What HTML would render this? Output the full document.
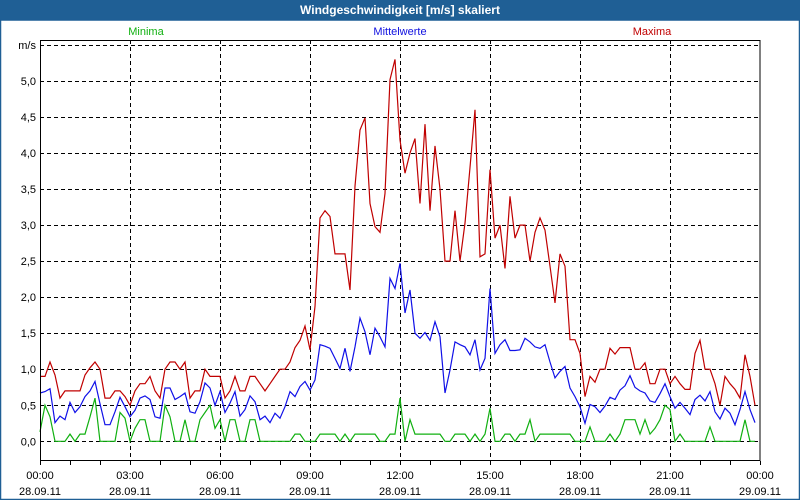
<!DOCTYPE html>
<html><head><meta charset="utf-8"><style>
body{margin:0;background:#fff;}
#wrap{position:relative;width:800px;height:500px;overflow:hidden;background:#fff;font-family:"Liberation Sans",sans-serif;}
</style></head><body>
<div id="wrap">
<svg id="chart" width="800" height="500" font-family="Liberation Sans, sans-serif">
<rect x="0" y="0" width="800" height="20" fill="#1f5f95"/>
<text x="400" y="14" fill="#fff" font-size="12" font-weight="bold" text-anchor="middle">Windgeschwindigkeit [m/s] skaliert</text>
<rect x="0.5" y="20" width="799" height="479.5" fill="none" stroke="#1f5f95" stroke-width="1.5"/>
<text x="146" y="35" fill="#10b010" font-size="11" text-anchor="middle">Minima</text>
<text x="400" y="35" fill="#1010e0" font-size="11" text-anchor="middle">Mittelwerte</text>
<text x="652" y="35" fill="#c00000" font-size="11" text-anchor="middle">Maxima</text>
<g id="grid"></g>
<g id="series"></g>
<rect x="40.5" y="40.5" width="719.5" height="420" fill="none" stroke="#000" stroke-width="1"/>
<g id="axes"></g>
</svg>
</div>
<script>
const yTicks=[0,0.5,1,1.5,2,2.5,3,3.5,4,4.5,5];
const yTickLabels=["0,0","0,5","1,0","1,5","2,0","2,5","3,0","3,5","4,0","4,5","5,0"];
const xTickHours=[0,3,6,9,12,15,18,21,24];
const xTimeLabels=["00:00","03:00","06:00","09:00","12:00","15:00","18:00","21:00","00:00"];
const xDateLabels=["28.09.11","28.09.11","28.09.11","28.09.11","28.09.11","28.09.11","28.09.11","28.09.11","29.09.11"];
const maxima=[0.9,0.9,1.1,0.92,0.6,0.7,0.7,0.7,0.7,0.92,1.02,1.1,1.0,0.6,0.6,0.7,0.7,0.62,0.5,0.7,0.8,0.8,0.9,0.7,0.6,1.0,1.1,1.1,1.0,1.1,0.6,0.7,0.7,1.0,0.9,0.9,0.9,0.6,0.7,0.9,0.7,0.7,0.9,0.9,0.8,0.7,0.8,0.9,1.0,1.0,1.1,1.3,1.4,1.6,
1.27,1.87,3.1,3.2,3.12,2.6,2.6,2.6,2.1,3.54,4.32,4.49,3.3,2.98,2.9,3.44,5.02,5.3,4.18,3.72,4.0,4.2,3.3,4.4,3.2,4.1,3.5,2.5,2.5,3.2,2.5,3.03,3.8,4.6,2.56,2.6,3.77,2.82,3.0,2.4,3.4,2.82,3.0,3.0,2.5,2.9,3.1,2.93,2.43,1.92,2.6,2.43,
1.41,1.41,1.22,0.62,0.9,0.82,1.0,1.0,1.29,1.21,1.3,1.3,1.3,1.0,1.0,1.09,0.8,0.8,1.0,1.0,0.8,0.9,0.8,0.72,0.72,1.22,1.4,1.0,1.0,0.8,0.5,0.9,0.8,0.72,0.6,1.2,0.9,0.5];
const mittelwerte=[0.67,0.69,0.73,0.26,0.35,0.3,0.54,0.4,0.48,0.62,0.7,0.83,0.52,0.23,0.23,0.41,0.61,0.48,0.34,0.43,0.6,0.63,0.58,0.34,0.32,0.74,0.74,0.58,0.62,0.67,0.41,0.39,0.55,0.81,0.74,0.5,0.69,0.4,0.53,0.69,0.35,0.44,0.63,0.55,0.3,0.35,0.26,0.39,0.32,0.48,0.69,0.62,0.76,0.83,
0.71,0.85,1.34,1.32,1.29,1.15,1.01,1.29,0.97,1.31,1.71,1.52,1.2,1.57,1.45,1.31,2.26,2.12,2.47,1.78,2.1,1.5,1.43,1.51,1.4,1.66,1.45,0.67,0.99,1.38,1.34,1.31,1.2,1.41,0.99,1.15,2.12,1.22,1.34,1.41,1.26,1.26,1.27,1.43,1.38,1.31,1.29,1.34,1.1,0.88,0.97,1.04,
0.74,0.62,0.48,0.25,0.51,0.48,0.4,0.49,0.61,0.58,0.71,0.77,0.91,0.75,0.7,0.67,0.56,0.54,0.66,0.8,0.62,0.46,0.54,0.46,0.37,0.58,0.64,0.56,0.69,0.41,0.31,0.46,0.39,0.23,0.44,0.69,0.44,0.26];
const minima=[0.13,0.5,0.34,0,0,0,0.1,0,0.1,0.1,0.34,0.6,0,0,0,0,0.4,0.32,0,0.18,0.3,0.3,0,0,0,0.5,0.34,0,0,0.3,0,0,0.3,0.4,0.5,0.18,0.3,0,0.3,0.3,0,0,0.3,0.3,0,0,0,0,0,0,0,0.1,0.1,0,
0,0,0.1,0.1,0.1,0.1,0,0.1,0,0.1,0.1,0.1,0.1,0.1,0,0,0.1,0.1,0.6,0,0.3,0.1,0.1,0.1,0.1,0.1,0.1,0,0,0.1,0.1,0.1,0,0.1,0,0.1,0.46,0,0,0.1,0.1,0,0.1,0.1,0.3,0,0.1,0.1,0.1,0.1,0.1,0.1,
0.1,0,0,0,0.2,0,0,0,0.1,0,0.1,0.3,0.3,0.3,0.1,0.3,0.1,0.18,0.3,0.5,0.44,0,0.1,0,0,0,0,0,0.2,0,0,0,0,0,0,0.3,0,0];

const NS="http://www.w3.org/2000/svg";
const X0=40,X1=760,Y0=441.3,PX_PER_MS=72.06;
function xHour(h){return X0+(X1-X0)*h/24;}
function xIdx(i){return xHour(i/6);}
function yVal(v){return Y0-v*PX_PER_MS;}
function mk(tag,attrs,parent){const e=document.createElementNS(NS,tag);for(const k in attrs)e.setAttribute(k,attrs[k]);parent.appendChild(e);return e;}
const grid=document.getElementById('grid'),axes=document.getElementById('axes'),series=document.getElementById('series');
const hl=yTicks.concat([5.5]);
hl.forEach((v,i)=>{
  const y=Math.round(yVal(v))+0.5;
  const l=mk('line',{x1:X0,x2:X1,y1:y,y2:y,stroke:'#000','stroke-dasharray':'4,3','stroke-width':1},grid);
  
  
});
yTicks.forEach((v,i)=>{
  const t=mk('text',{x:36,y:yVal(v)+4,'font-size':11,'text-anchor':'end',fill:'#000'},axes);
  t.textContent=yTickLabels[i];
  
  
});
const unit=mk('text',{x:36,y:yVal(5.5)+4,'font-size':11,'text-anchor':'end',fill:'#000'},axes);
unit.textContent='m/s';


xTickHours.forEach((h,i)=>{
  const x=Math.round(xHour(h))+0.5;
  if(h>0&&h<24){
    const l=mk('line',{x1:x,x2:x,y1:40,y2:461,stroke:'#000','stroke-dasharray':'4,3'},grid);
    
    
  }
  const t=mk('text',{x:xHour(h),y:479,'font-size':11,'text-anchor':'middle',fill:'#000'},axes);
  t.textContent=xTimeLabels[i];
  
  
  const d=mk('text',{x:xHour(h),y:495,'font-size':11,'text-anchor':'middle',fill:'#000'},axes);
  d.textContent=xDateLabels[i];
  
  
});
for(let h=0;h<=24;h++){
  const x=Math.round(xHour(h))+0.5;
  const l=mk('line',{x1:x,x2:x,y1:461,y2:465,stroke:'#000'},axes);
  
  
}
function drawSeries(arr,color,name){
  const pts=arr.map((v,i)=>xIdx(i).toFixed(1)+','+yVal(v).toFixed(1)).join(' ');
  const p=mk('polyline',{points:pts,fill:'none',stroke:color,'stroke-width':1.2,'stroke-linejoin':'miter'},series);
  
  
}
drawSeries(minima,'#10b010','line-minima');
drawSeries(mittelwerte,'#1010e8','line-mittelwerte');
drawSeries(maxima,'#c00000','line-maxima');
</script>
</body></html>
